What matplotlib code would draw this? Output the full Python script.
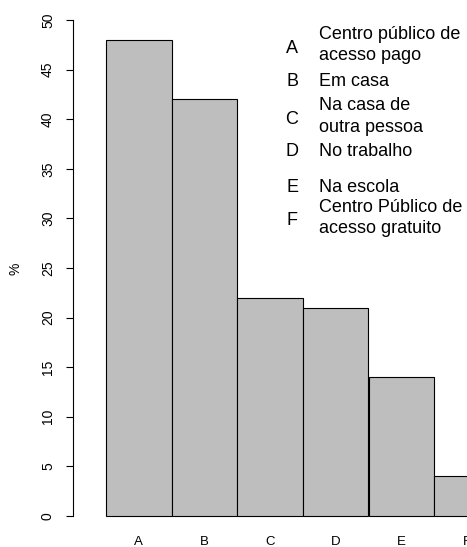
import matplotlib
matplotlib.use("Agg")
import matplotlib.pyplot as plt
import numpy as np

plt.rcParams['font.family'] = ['Liberation Sans', 'DejaVu Sans']

categorias = ['A', 'B', 'C', 'D', 'E', 'F']
percentuais = [48, 42, 22, 21, 14, 4]
descricoes = ['Centro público de\nacesso pago', 'Em casa', 'Na casa de\noutra pessoa',
              'No trabalho', 'Na escola', 'Centro Público de\nacesso gratuito']
yticks = np.arange(0, 51, 5)

W, H = 467, 547
fig = plt.figure(figsize=(W / 100, H / 100), dpi=100)
# axes placed in pixels: y 0..50 from 516px to 20px, bars 65.7px wide
ax = fig.add_axes([73 / W, (H - 535.8) / H, 394 / W, 535.6 / H])

x = np.arange(len(categorias))
ax.bar(x, percentuais, width=1.0, color='#bebebe', edgecolor='black', linewidth=0.8)
ax.set_xlim(-1, 5)
ax.set_ylim(-2, 52)

for s in ['top', 'right', 'bottom']:
    ax.spines[s].set_visible(False)
ax.spines['left'].set_bounds(0, 50)
ax.spines['left'].set_linewidth(0.8)

ax.set_yticks(yticks)
ax.set_yticklabels([str(v) for v in yticks], rotation=90, va='center')
ax.tick_params(axis='y', length=5, width=0.8, pad=8, labelsize=10)
ax.set_xticks(x)
ax.set_xticklabels(categorias)
ax.tick_params(axis='x', length=0, pad=0, labelsize=9.5)

ax.set_ylabel('%', rotation=90, va='center', ha='center', fontsize=10)
ax.yaxis.set_label_coords((15.5 - 73) / 394, (535.8 - 269) / 535.6)

# legend: letter + description (first baseline, letter baseline in px)
linhas_base = [38.5, 86, 110, 156.5, 191.5, 211.5]
letra_base = [52.5, 86, 123.5, 156.5, 191.5, 225]
for cat, desc, yb, yl in zip(categorias, descricoes, linhas_base, letra_base):
    fig.text(292 / W, 1 - yl / H, cat, ha='center', va='baseline', fontsize=13)
    for k, linha in enumerate(desc.split('\n')):
        fig.text(319 / W, 1 - (yb + 21.6 * k) / H, linha, ha='left', va='baseline', fontsize=13)

fig.savefig('out.png', dpi=100)
